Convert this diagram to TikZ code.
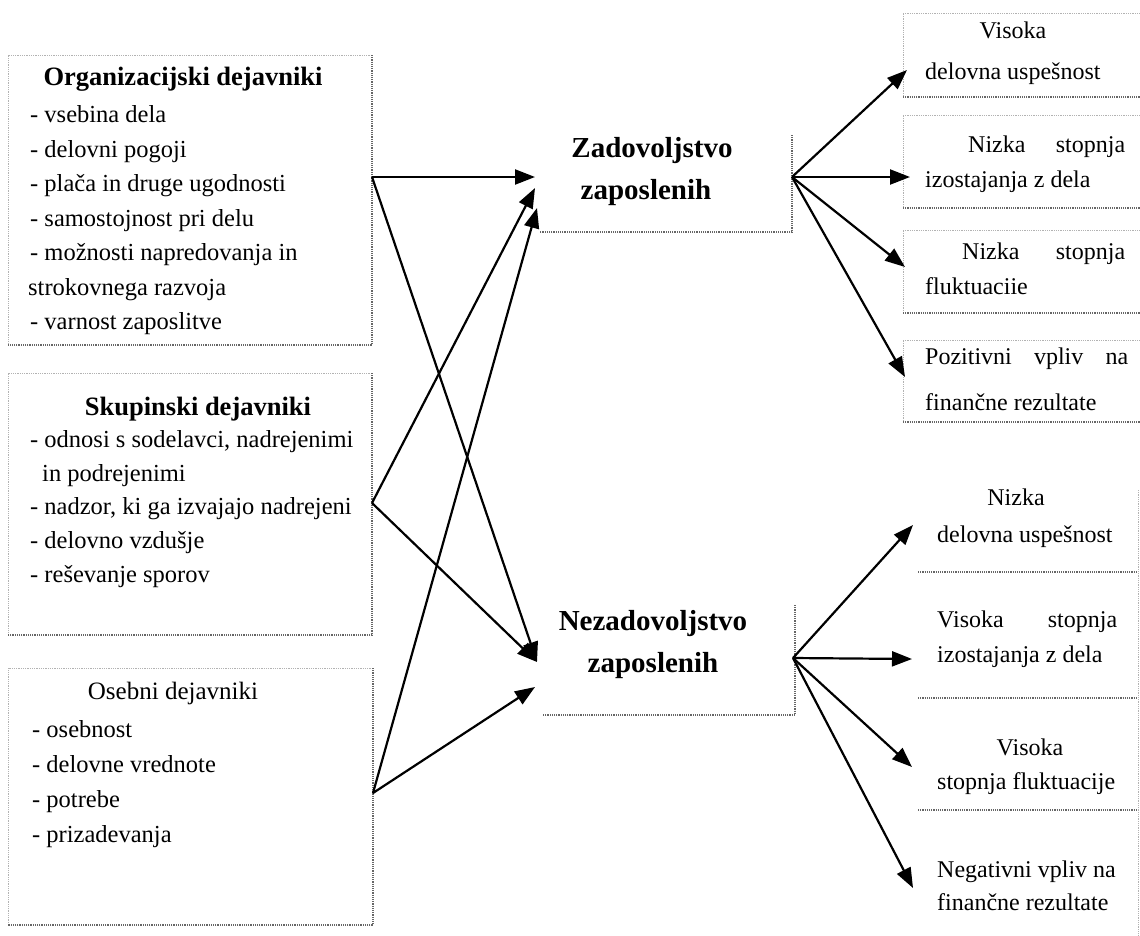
\documentclass[tikz,border=0pt]{standalone}
\usepackage{fontspec}
\setmainfont{Liberation Serif}
\usetikzlibrary{arrows.meta}
\begin{document}
\begin{tikzpicture}[x=1pt,y=-1pt,
  item/.style={anchor=mid west, inner sep=0pt, font=\fontsize{24.5}{29}\selectfont},
  head/.style={anchor=mid, inner sep=0pt, font=\fontsize{26.5}{31}\selectfont\bfseries},
  plainhead/.style={anchor=mid, inner sep=0pt, font=\fontsize{25}{30}\selectfont},
  core/.style={anchor=mid, inner sep=0pt, font=\fontsize{29}{34}\selectfont\bfseries},
  res/.style={anchor=mid west, inner sep=0pt, font=\fontsize{24}{29}\selectfont},
  resc/.style={anchor=mid, inner sep=0pt, font=\fontsize{24}{29}\selectfont},
  faint/.style={draw=black!30, line width=0.8pt, densely dotted},
  frame/.style={draw=black!60, line width=1.2pt, densely dotted},
  conn/.style={line width=2.2pt, -{Triangle[length=20pt,width=15pt]}},
]
\useasboundingbox (0,0) rectangle (1140,935);

% ---------- frames of the three factor groups ----------
\draw[faint] (372,55) -- (8,55) -- (8,345);
\draw[frame] (372,55) -- (372,345) -- (8,345);
\draw[faint] (372,373) -- (8,373) -- (8,635);
\draw[frame] (372,373) -- (372,635) -- (8,635);
\draw[faint] (373,668) -- (8,668) -- (8,925);
\draw[frame] (373,668) -- (373,925) -- (8,925);

% ---------- organisational factors ----------
\node[head] (orgT) at (183,83) {Organizacijski dejavniki};
\node[item] (org1) at (30,120) {- vsebina dela};
\node[item] (org2) at (30,155) {- delovni pogoji};
\node[item] (org3) at (30,189) {- plača in druge ugodnosti};
\node[item] (org4) at (30,224) {- samostojnost pri delu};
\node[item] (org5) at (30,258) {- možnosti napredovanja in};
\node[item] (org6) at (28,293) {strokovnega razvoja};
\node[item] (org7) at (30,327) {- varnost zaposlitve};

% ---------- group factors ----------
\node[head] (grpT) at (198,413) {Skupinski dejavniki};
\node[item] (grp1) at (30,445) {- odnosi s sodelavci, nadrejenimi};
\node[item] (grp2) at (42,479) {in podrejenimi};
\node[item] (grp3) at (30,512) {- nadzor, ki ga izvajajo nadrejeni};
\node[item] (grp4) at (30,546) {- delovno vzdušje};
\node[item] (grp5) at (30,580) {- reševanje sporov};

% ---------- personal factors ----------
\node[plainhead] (perT) at (173,697) {Osebni dejavniki};
\node[item] (per1) at (32,735) {- osebnost};
\node[item] (per2) at (32,770) {- delovne vrednote};
\node[item] (per3) at (32,805) {- potrebe};
\node[item] (per4) at (32,840) {- prizadevanja};

% ---------- satisfaction / dissatisfaction ----------
\draw[frame] (792,135) -- (792,232) -- (540,232);
\node[core] (satA) at (652,155) {Zadovoljstvo};
\node[core] (satB) at (646,197) {zaposlenih};

\draw[frame] (795,605) -- (795,715) -- (542,715);
\node[core] (disA) at (653,628) {Nezadovoljstvo};
\node[core] (disB) at (653,670) {zaposlenih};

% ---------- positive outcomes ----------
\foreach \t/\b in {13/97,115/208,230/313,340/422}{
  \draw[faint] (1145,\t) -- (903,\t) -- (903,\b);
  \draw[frame] (903,\b) -- (1145,\b);
}
\node[resc] (p1a) at (1013,36) {Visoka};
\node[res]  (p1b) at (925,77) {delovna uspešnost};
\node[res]  (p2a) at (968,150) {\makebox[157pt][s]{Nizka stopnja}};
\node[res]  (p2b) at (925,185) {izostajanja z dela};
\node[res]  (p3a) at (962,257) {\makebox[163pt][s]{Nizka stopnja}};
\node[res]  (p3b) at (925,292) {fluktuaciie};
\node[res]  (p4a) at (925,362) {\makebox[203pt][s]{Pozitivni vpliv na}};
\node[res]  (p4b) at (925,408) {finančne rezultate};

% ---------- negative outcomes ----------
\draw[faint] (1138,490) -- (1138,935);
\draw[frame] (918,572) -- (1138,572);
\draw[frame] (918,698) -- (1138,698);
\draw[frame] (918,810) -- (1138,810);
\node[resc] (n1a) at (1016,503) {Nizka};
\node[res]  (n1b) at (937,540) {delovna uspešnost};
\node[res]  (n2a) at (937,625) {\makebox[180pt][s]{Visoka stopnja}};
\node[res]  (n2b) at (937,660) {izostajanja z dela};
\node[resc] (n3a) at (1030,753) {Visoka};
\node[res]  (n3b) at (937,787) {stopnja fluktuacije};
\node[res]  (n4a) at (937,875) {Negativni vpliv na};
\node[res]  (n4b) at (937,908) {finančne rezultate};

% ---------- connector ends ----------
\coordinate (oOut) at (372,177);
\coordinate (gOut) at (372,503);
\coordinate (pOut) at (373,793);
\coordinate (sIn1) at (535,177);
\coordinate (sIn2) at (535,188);
\coordinate (sIn3) at (537,208);
\coordinate (dIn1) at (537,662);
\coordinate (dIn2) at (535,687);
\coordinate (sOut) at (792,177);
\coordinate (dOut) at (793,658);
\coordinate (pos1) at (907,70);
\coordinate (pos2) at (910,177);
\coordinate (pos3) at (905,267);
\coordinate (pos4) at (905,377);
\coordinate (neg1) at (913,525);
\coordinate (neg2) at (912,659);
\coordinate (neg3) at (912,767);
\coordinate (neg4) at (913,888);

% ---------- connectors ----------
\draw[conn] (oOut) -- (sIn1);
\draw[conn] (oOut) -- (dIn1);
\draw[conn] (gOut) -- (sIn2);
\draw[conn] (gOut) -- (dIn1);
\draw[conn] (pOut) -- (sIn3);
\draw[conn] (pOut) -- (dIn2);

\draw[conn] (sOut) -- (pos1);
\draw[conn] (sOut) -- (pos2);
\draw[conn] (sOut) -- (pos3);
\draw[conn] (sOut) -- (pos4);
\draw[conn] (dOut) -- (neg1);
\draw[conn] (dOut) -- (neg2);
\draw[conn] (dOut) -- (neg3);
\draw[conn] (dOut) -- (neg4);
\end{tikzpicture}
\end{document}
